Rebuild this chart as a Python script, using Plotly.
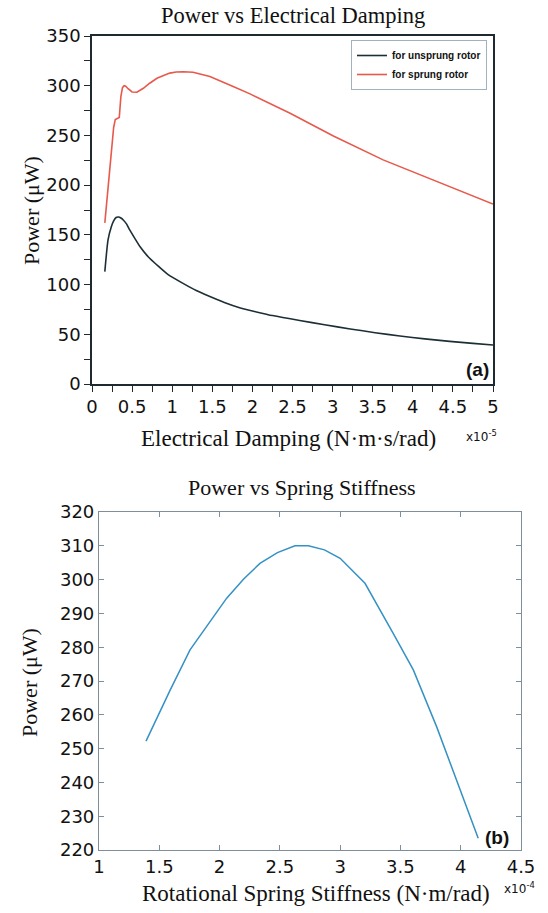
import plotly.graph_objects as go

W, H = 548, 913

# ---- Data (a): Power vs Electrical Damping (x in units of 1e-5 N·m·s/rad) ----
damp_unsprung = [0.16, 0.20, 0.24, 0.27, 0.30, 0.33, 0.36, 0.39, 0.43, 0.47, 0.53, 0.60, 0.70, 0.81,
                 0.95, 1.14, 1.30, 1.47, 1.65, 1.85, 2.05, 2.25, 2.59, 2.90, 3.22, 3.53, 3.84,
                 4.15, 4.46, 4.75, 5.0]
power_unsprung = [113, 145, 158, 164, 167.5, 168, 167, 165, 161, 155, 147, 138, 128, 119.7,
                  110, 101, 94, 88, 82, 76.5, 72.5, 68.8, 63.8, 59.6, 55.4, 51.6, 48.3,
                  45.4, 42.9, 40.9, 39.2]

damp_sprung = [0.16, 0.19, 0.22, 0.25, 0.27, 0.29, 0.31, 0.34, 0.36, 0.38, 0.40, 0.42, 0.45,
               0.50, 0.56, 0.64, 0.72, 0.81, 0.90, 0.97, 1.05, 1.14, 1.26, 1.47, 1.76, 1.97,
               2.47, 3.01, 3.63, 4.26, 5.0]
power_sprung = [162, 190, 212, 240, 258, 266, 267, 268, 289, 298, 300, 299.5, 297,
                293.7, 293.4, 297.4, 302.5, 307.5, 310.5, 312.7, 313.8, 314, 313.5, 309.2, 299.2, 291.8,
                272.3, 249.5, 225.4, 205.2, 181]

# ---- Data (b): Power vs Spring Stiffness (x in units of 1e-4 N·m/rad) ----
stiff = [1.39, 1.59, 1.755, 1.893, 2.059, 2.20, 2.335, 2.48, 2.625, 2.736, 2.87, 3.0, 3.206,
         3.44, 3.607, 3.80, 3.966, 4.145]
power_stiff = [252.2, 267.3, 279.2, 286.1, 294.5, 300.2, 304.8, 308.0, 310, 310, 308.8, 306.3, 298.9,
               284.1, 273.3, 256.5, 240.7, 223.5]

SERIF = "Liberation Serif"
SANS = "DejaVu Sans"


def px_x(x):
    return x / W


def px_y(y):
    return 1 - y / H


fig = go.Figure()

fig.add_trace(go.Scatter(x=damp_unsprung, y=power_unsprung, mode="lines",
                         name="for unsprung rotor", line=dict(color="#1c2f36", width=1.6,
                                                               shape="spline", smoothing=0.6),
                         xaxis="x", yaxis="y"))
fig.add_trace(go.Scatter(x=damp_sprung, y=power_sprung, mode="lines",
                         name="for sprung rotor", line=dict(color="#e8594c", width=1.6),
                         xaxis="x", yaxis="y"))
fig.add_trace(go.Scatter(x=stiff, y=power_stiff, mode="lines", showlegend=False,
                         line=dict(color="#3591c4", width=1.5),
                         xaxis="x2", yaxis="y2"))

axis_a = dict(showgrid=False, zeroline=False, showline=True, linecolor="#1e2a30", linewidth=1.5,
              mirror=True, ticks="outside", ticklen=6, tickwidth=1.3, tickcolor="#1e2a30",
              automargin=False,
              tickfont=dict(family=SANS, size=18, color="#111"))
axis_b = dict(showgrid=False, zeroline=False, showline=True, linecolor="#7d8e9c", linewidth=1.2,
              mirror="allticks", ticks="inside", ticklen=5, tickwidth=1, tickcolor="#7d8e9c",
              automargin=False,
              tickfont=dict(family=SANS, size=18, color="#111"))

fig.update_layout(
    width=W, height=H,
    margin=dict(l=0, r=0, t=0, b=0, autoexpand=False),
    paper_bgcolor="white", plot_bgcolor="white",
    showlegend=True,
    legend=dict(x=px_x(487), y=px_y(40), xanchor="right", yanchor="top",
                bgcolor="white", bordercolor="#9fb2bf", borderwidth=1,
                font=dict(family="Liberation Sans", size=10, color="#111", weight="bold"),
                tracegroupgap=0, itemwidth=30),
    xaxis=dict(axis_a, domain=[px_x(92), px_x(493)], range=[0, 5],
               tickvals=[0, 0.5, 1, 1.5, 2, 2.5, 3, 3.5, 4, 4.5, 5],
               ticktext=["0", "0.5", "1", "1.5", "2", "2.5", "3", "3.5", "4", "4.5", "5"],
               minor=dict(dtick=0.25, ticks="outside", ticklen=6, tickcolor="#1e2a30", tickwidth=1.3),
               anchor="y"),
    yaxis=dict(axis_a, domain=[px_y(384), px_y(36)], range=[0, 350], dtick=50,
               minor=dict(dtick=25, ticks="outside", ticklen=6, tickcolor="#1e2a30", tickwidth=1.3),
               anchor="x"),
    xaxis2=dict(axis_b, domain=[px_x(99), px_x(521)], range=[1, 4.5],
                tickvals=[1, 1.5, 2, 2.5, 3, 3.5, 4, 4.5],
                ticktext=["1", "1.5", "2", "2.5", "3", "3.5", "4", "4.5"], anchor="y2"),
    yaxis2=dict(axis_b, domain=[px_y(850), px_y(512)], range=[220, 320], dtick=10, anchor="x2"),
)

ann = [
    dict(text="Power vs Electrical Damping", x=px_x(293), y=px_y(16), size=22.5, family=SERIF),
    dict(text="Electrical Damping (N·m·s/rad)", x=px_x(288), y=px_y(439), size=23, family=SERIF),
    dict(text="Power (μW)", x=px_x(31), y=px_y(211), size=22, family=SERIF, angle=-90),
    dict(text="x10<sup>-5</sup>", x=px_x(481), y=px_y(436), size=12, family=SANS),
    dict(text="<b>(a)</b>", x=px_x(477), y=px_y(369), size=19, family="Liberation Sans"),
    dict(text="Power vs Spring Stiffness", x=px_x(302), y=px_y(488), size=22, family=SERIF),
    dict(text="Rotational Spring Stiffness (N·m/rad)", x=px_x(316), y=px_y(893), size=23, family=SERIF),
    dict(text="Power (μW)", x=px_x(29), y=px_y(683), size=22, family=SERIF, angle=-90),
    dict(text="x10<sup>-4</sup>", x=px_x(519), y=px_y(888), size=12, family=SANS),
    dict(text="<b>(b)</b>", x=px_x(497), y=px_y(837), size=19, family="Liberation Sans"),
]
for a in ann:
    fig.add_annotation(text=a["text"], x=a["x"], y=a["y"], xref="paper", yref="paper",
                       xanchor="center", yanchor="middle", showarrow=False,
                       textangle=a.get("angle", 0),
                       font=dict(family=a["family"], size=a["size"], color="#111"))

# remove the default page margin so the 548x913 figure fills the window exactly
fig.write_html("out.html",
               config={"displayModeBar": False},
               post_script="document.body.style.margin='0';document.body.style.overflow='hidden';")
